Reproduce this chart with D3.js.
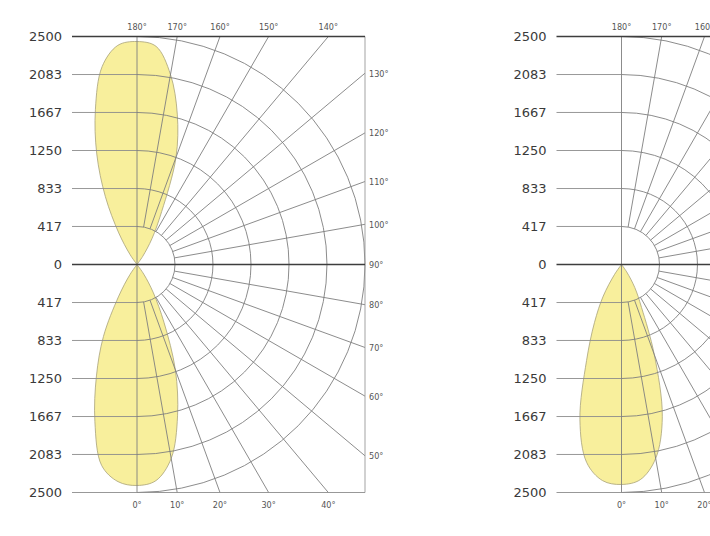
<!DOCTYPE html>
<html>
<head>
<meta charset="utf-8">
<script src="https://cdn.jsdelivr.net/npm/d3@7"></script>
<style>
    html, body { margin: 0; padding: 0; background: #fff; }
    svg { display: block; }
</style>
</head>
<body>
<div id="chart"></div>
<script>
// luminous intensity rings (cd) and gamma angles of the grid
const intensityTicks = [0, 417, 833, 1250, 1667, 2083, 2500];
const gammaTicks = [0, 10, 20, 30, 40, 50, 60, 70, 80, 90, 100, 110, 120, 130, 140, 150, 160, 170, 180];

// lobe samples, angle off the vertical axis (negative = left side)
const lobeAngles = [-40, -35, -30, -25, -20, -15, -10, -5, 0, 5, 10, 15, 20, 25, 30, 35, 40];
const leftUpperLobe = [0, 132, 400, 820, 1290, 1762, 2203, 2412, 2445, 2401, 2115, 1707, 1250, 640, 330, 110, 0];
const leftLowerLobe = [0, 132, 400, 870, 1300, 1784, 2236, 2390, 2423, 2379, 2159, 1718, 1230, 700, 360, 132, 0];
const rightLowerLobe = [0, 132, 400, 700, 1120, 1762, 2203, 2379, 2412, 2368, 2159, 1729, 1050, 520, 290, 99, 0];

const width = 710;
const height = 536;
const cy = 264.5;
const R = 228;

const rScale = d3.scaleLinear()
    .domain([0, d3.max(intensityTicks)])
    .range([0, R]);

const svg = d3.select("#chart").append("svg")
    .attr("width", width)
    .attr("height", height)
    .attr("viewBox", [0, 0, width, height]);

const panels = [
    { cx: 137, lobes: [{ values: leftUpperLobe, dir: -1 }, { values: leftLowerLobe, dir: 1 }] },
    { cx: 621.5, lobes: [{ values: rightLowerLobe, dir: 1 }] }
];

panels.forEach((p) => drawPanel(p));

function drawPanel({ cx, lobes }) {
    const g = svg.append("g");
    const left = cx - 65;
    const right = cx + R;
    const top = cy - R;
    const bottom = cy + R;

    // yellow lobes under the grid
    const line = d3.line()
        .x((d) => d[0])
        .y((d) => d[1])
        .curve(d3.curveCatmullRom.alpha(0.5));

    lobes.forEach((lobe) => {
        const pts = lobeAngles.map((a, i) => {
            const t = a * Math.PI / 180;
            const r = rScale(lobe.values[i]);
            return [cx + r * Math.sin(t), cy + lobe.dir * r * Math.cos(t)];
        });
        g.append("path")
            .attr("d", line(pts) + "Z")
            .attr("fill", "#f8ef9c")
            .attr("stroke", "#a8a27a")
            .attr("stroke-width", 0.8);
    });

    const grid = g.append("g")
        .attr("fill", "none")
        .attr("stroke", "#7f7f7f")
        .attr("stroke-width", 0.9);

    // rings: half circles on the right side
    intensityTicks.filter((v) => v > 0).forEach((v) => {
        const path = d3.path();
        path.arc(cx, cy, rScale(v), -Math.PI / 2, Math.PI / 2);
        grid.append("path").attr("d", path.toString());
    });

    // leaders from the value labels
    intensityTicks.filter((v) => v > 0 && v < 2500).forEach((v) => {
        [-1, 1].forEach((s) => {
            grid.append("line")
                .attr("x1", left).attr("x2", cx)
                .attr("y1", cy + s * rScale(v)).attr("y2", cy + s * rScale(v))
                .attr("stroke", "#8c8c8c");
        });
    });

    // radial lines
    const r0 = rScale(417);
    const ends = gammaTicks.map((gm) => {
        const t = gm * Math.PI / 180;
        const sx = Math.sin(t);
        const sy = Math.cos(t);
        const dist = R / Math.max(Math.abs(sx), Math.abs(sy));
        return { gm, sx, sy, x: cx + dist * sx, y: cy + dist * sy };
    });

    ends.filter((e) => e.gm % 90 !== 0).forEach((e) => {
        grid.append("line")
            .attr("x1", cx + r0 * e.sx).attr("y1", cy + r0 * e.sy)
            .attr("x2", e.x).attr("y2", e.y);
    });

    // vertical axis and box
    grid.append("line")
        .attr("x1", cx).attr("x2", cx)
        .attr("y1", top).attr("y2", bottom);
    grid.append("line")
        .attr("x1", right).attr("x2", right)
        .attr("y1", top).attr("y2", bottom)
        .attr("stroke", "#999");
    grid.append("line")
        .attr("x1", left).attr("x2", right)
        .attr("y1", bottom).attr("y2", bottom)
        .attr("stroke", "#8c8c8c");

    [top, cy].forEach((y) => {
        grid.append("line")
            .attr("x1", left).attr("x2", right)
            .attr("y1", y).attr("y2", y)
            .attr("stroke", "#3d3d3d")
            .attr("stroke-width", 1.6);
    });

    // value labels
    const valueLabels = g.append("g")
        .attr("font-family", "'DejaVu Sans', sans-serif")
        .attr("font-size", 13)
        .attr("fill", "#3a3a3a")
        .attr("text-anchor", "end");

    intensityTicks.forEach((v) => {
        const offsets = v === 0 ? [0] : [-1, 1];
        offsets.forEach((s) => {
            valueLabels.append("text")
                .attr("x", cx - 75)
                .attr("y", cy + s * rScale(v) + 4.5)
                .text(v);
        });
    });

    // angle labels (skip the ones that fall fully outside the window)
    const angleLabels = g.append("g")
        .attr("font-family", "'DejaVu Sans Condensed', 'DejaVu Sans', sans-serif")
        .attr("font-size", 9)
        .attr("fill", "#555");

    ends.forEach((e) => {
        const onTopOrBottom = Math.abs(e.sy) >= Math.abs(e.sx);
        const lx = onTopOrBottom ? e.x : right + 4;
        if (lx - 12 > width) return;
        const t = angleLabels.append("text").text(`${e.gm}°`);
        if (onTopOrBottom) {
            t.attr("x", lx)
                .attr("y", e.sy < 0 ? top - 7 : bottom + 15)
                .attr("text-anchor", "middle");
        } else {
            t.attr("x", lx)
                .attr("y", e.y + 3.5)
                .attr("text-anchor", "start");
        }
    });
}
</script>
</body>
</html>
